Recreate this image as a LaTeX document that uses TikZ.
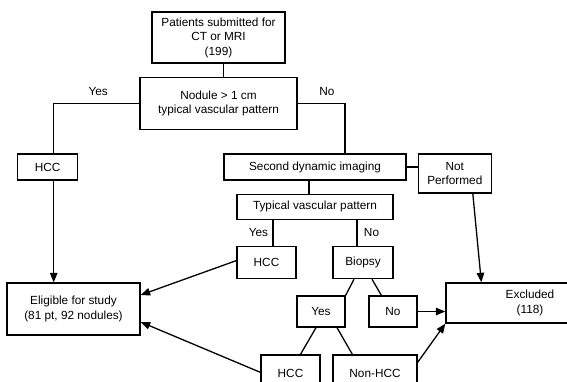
\documentclass[tikz,border=0pt]{standalone}
\usepackage{fontspec}
\setmainfont{Liberation Sans}
\usepackage{tikz}
\usetikzlibrary{positioning, arrows.meta}

\begin{document}
\begin{tikzpicture}[
  x=1pt, y=-1pt,
  box/.style={
    rectangle, draw=black, fill=white, line width=1.3pt,
    inner sep=1pt, align=center,
    font=\fontsize{11.8}{14.5}\selectfont
  },
  lbl/.style={font=\fontsize{11.8}{14.5}\selectfont},
  link/.style={line width=1.3pt},
  arr/.style={-{Triangle[length=9.5pt, width=7.5pt]}, line width=1.3pt},
]
\useasboundingbox (0,0) rectangle (567,382);
\clip (0,0) rectangle (567,382);

\node[box, minimum width=133pt, minimum height=51pt] at (218.5,37.5) (patients) {Patients submitted for\\CT or MRI\\(199)};
\node[box, minimum width=157pt, minimum height=52pt, below=13pt of patients] (nodule) {Nodule > 1 cm\\typical vascular pattern};

\node[box, minimum width=182pt, minimum height=26pt] at (315,167) (second) {Second dynamic imaging};
\node[box, minimum width=60pt, minimum height=26pt, left=145pt of second] (hccA) {HCC};
\node[box, minimum width=73pt, minimum height=39pt, right=11pt of second.north east, anchor=north west] (notperf) {Not\\Performed};
\node[box, minimum width=156pt, minimum height=25pt, below=13pt of second] (typical) {Typical vascular pattern};

\node[box, minimum width=59pt, minimum height=32pt, below=26pt of typical.south west, anchor=north west] (hccB) {HCC};
\node[box, minimum width=60pt, minimum height=32pt, below=26pt of typical.south east, anchor=north east] (biopsy) {Biopsy};

\node[box, minimum width=48pt, minimum height=31pt] at (321,311.5) (bioyes) {Yes};
\node[box, minimum width=48pt, minimum height=31pt] at (393,311.5) (biono) {No};
\node[box, minimum width=59pt, minimum height=36pt] at (290.5,373) (hccC) {HCC};
\node[box, minimum width=84pt, minimum height=36pt] at (375,373) (nonhcc) {Non-HCC};

\node[box, minimum width=133pt, minimum height=52pt] at (73.5,309) (eligible) {Eligible for study\\(81 pt, 92 nodules)};
\node[box, minimum width=168pt, minimum height=40pt] at (530,303) (excluded) {Excluded\\(118)};

% Decisions
\draw[link] ([xshift=5pt]patients.south) -- ([xshift=5pt]patients.south |- nodule.north);
\draw[link] (nodule.west) -| ([xshift=6pt]hccA.north) node[lbl, pos=0.24, above=4pt] {Yes};
\draw[link] (nodule.east) -| ([xshift=30pt]second.north) node[lbl, pos=0.31, above=4pt] {No};
\draw[link] (second.east) -- (second.east -| notperf.west);
\draw[link] ([xshift=-6pt]second.south) -- ([xshift=-6pt]second.south |- typical.north);
\draw[link] ([xshift=-42pt]typical.south) -- node[lbl, left=1pt] {Yes} ([xshift=-42pt]typical.south |- hccB.north);
\draw[link] ([xshift=42pt]typical.south) -- node[lbl, right=3pt] {No} ([xshift=42pt]typical.south |- biopsy.north);
\draw[link] ([xshift=-9pt]biopsy.south) -- (bioyes.north east);
\draw[link] ([xshift=9pt]biopsy.south) -- ([xshift=13pt]biono.north west);
\draw[link] ([xshift=-5pt]bioyes.south) -- ([xshift=10pt]hccC.north);
\draw[link] ([xshift=16pt]bioyes.south) -- ([xshift=20pt]nonhcc.north west);

% Outcomes
\draw[arr] ([xshift=6pt]hccA.south) -- ([xshift=6pt]hccA.south |- eligible.north);
\draw[arr] ([yshift=2pt]hccB.west) -- ([yshift=14pt]eligible.east);
\draw[arr] ([yshift=-18pt]hccC.north west) -- ([yshift=-13pt]eligible.east);
\draw[arr] ([xshift=18pt]notperf.south) -- ([xshift=36pt]excluded.north west);
\draw[arr] (biono.east) -- (biono.east -| excluded.west);
\draw[arr] ([yshift=-8pt]nonhcc.north east) -- (excluded.south west);

\end{tikzpicture}
\end{document}
